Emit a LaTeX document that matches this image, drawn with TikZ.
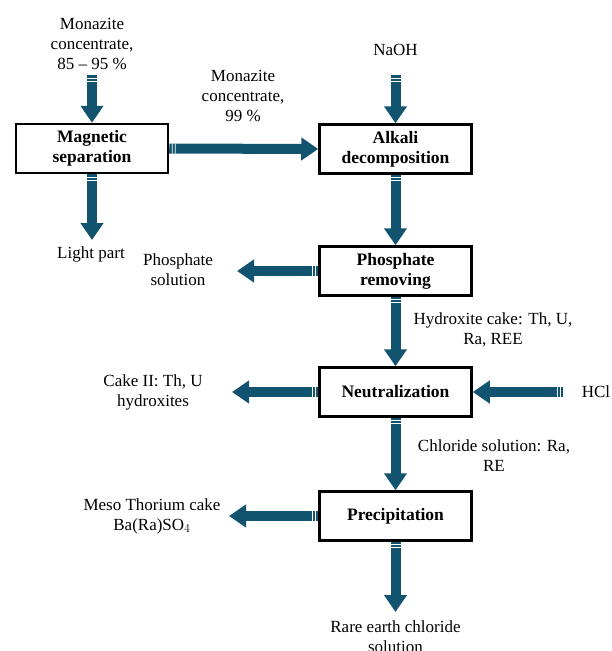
\documentclass[tikz,border=0pt]{standalone}
\usepackage{fontspec}
\setmainfont{Liberation Serif}
\usetikzlibrary{arrows.meta,calc}
\definecolor{flowblue}{HTML}{125470}
\tikzset{
  proc/.style={draw=black, line width=2.5pt, fill=white, minimum width=152pt, minimum height=49pt,
    align=center, inner sep=0pt, font=\fontsize{17.5}{20}\selectfont\bfseries},
  lbl/.style={align=center, inner sep=0pt, font=\fontsize{17}{20}\selectfont},
  flow/.style={draw=flowblue, line width=10pt, -{Triangle[width=22pt,length=17pt]}},
  stripe/.style={draw=white, line width=0.6pt}
}
\newcommand\flowarrow[2]{%
  \draw[flow] (#1) -- (#2);
  \draw[stripe] ($(#1)!3pt!(#2)!5pt!90:(#2)$) -- ($(#1)!3pt!(#2)!5pt!-90:(#2)$);
  \draw[stripe] ($(#1)!6pt!(#2)!5pt!90:(#2)$) -- ($(#1)!6pt!(#2)!5pt!-90:(#2)$);
}
\begin{document}
\begin{tikzpicture}[x=1pt,y=-1pt]
\useasboundingbox (0,0) rectangle (611,651);
% process boxes
\node[proc] (mag) at (92,148.5) {Magnetic\\separation};
\node[proc] (alk) at (395.5,149) {Alkali\\decomposition};
\node[proc] (phos) at (395.5,271) {Phosphate\\removing};
\node[proc] (neut) at (395.5,392) {Neutralization};
\node[proc] (prec) at (395.5,516) {Precipitation};
% labels
\node[lbl] (lmon) at (92,44) {Monazite\\concentrate,\\85 -- 95 \%};
\node[lbl] (lmon99) at (243,96) {Monazite\\concentrate,\\99 \%};
\node[lbl] (lnaoh) at (395.5,50) {NaOH};
\node[lbl] (llight) at (91,254) {Light part};
\node[lbl] (lphos) at (178,270) {Phosphate\\solution};
\node[lbl] (lhyd) at (493,330) {Hydroxite cake: Th, U,\\Ra, REE};
\node[lbl] (lcake) at (153,392) {Cake II: Th, U\\hydroxites};
\node[lbl] (lhcl) at (596,392) {HCl};
\node[lbl] (lchl) at (494,456) {Chloride solution: Ra,\\RE};
\node[lbl] (lmeso) at (152,516) {Meso Thorium cake\\Ba(Ra)SO$_4$};
\node[lbl] (lrare) at (395.5,637) {Rare earth chloride\\solution};
% free ends
\coordinate (inA) at (92,75);
\coordinate (inB) at (395.5,75);
\coordinate (outLight) at (92,240);
\coordinate (outPhos) at (237,271);
\coordinate (outCake) at (232,392);
\coordinate (inHCl) at (563,392);
\coordinate (outMeso) at (229,516);
\coordinate (outRare) at (395.5,612);
% flows
\flowarrow{inA}{mag.north}
\flowarrow{mag.east}{alk.west}
\flowarrow{inB}{alk.north}
\flowarrow{mag.south}{outLight}
\flowarrow{alk.south}{phos.north}
\flowarrow{phos.west}{outPhos}
\flowarrow{phos.south}{neut.north}
\flowarrow{neut.west}{outCake}
\flowarrow{inHCl}{neut.east}
\flowarrow{neut.south}{prec.north}
\flowarrow{prec.west}{outMeso}
\flowarrow{prec.south}{outRare}
\end{tikzpicture}
\end{document}
